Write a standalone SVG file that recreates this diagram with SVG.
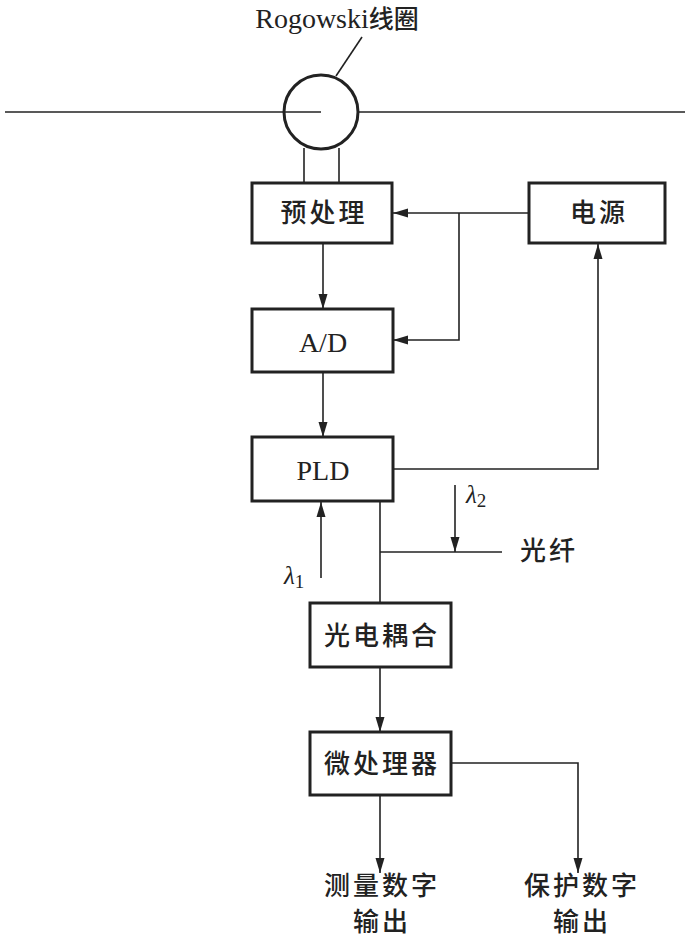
<svg xmlns="http://www.w3.org/2000/svg" width="687" height="944" viewBox="0 0 687 944">
<defs>
<marker id="ah" markerUnits="userSpaceOnUse" markerWidth="16" markerHeight="10" refX="15" refY="5" orient="auto">
<path d="M0,0.5 L15,5 L0,9.5 z" fill="#222"/>
</marker>
<style>
.box{fill:#fff;stroke:#222;stroke-width:3}
.ln{fill:none;stroke:#222;stroke-width:1.6}
.ar{fill:none;stroke:#222;stroke-width:1.6;marker-end:url(#ah)}
.t{font-family:"Liberation Serif","Noto Sans CJK SC",serif;font-size:28px;fill:#222;text-anchor:middle}
.c{font-family:"Noto Sans CJK SC",sans-serif;font-size:26px;font-weight:500;letter-spacing:3px;fill:#222;text-anchor:middle}
.g{font-family:"Liberation Serif",serif;font-style:italic;font-size:25px;fill:#222}
</style>
</defs>
<rect width="687" height="944" fill="#fff"/>
<g id="coil">
<text class="t" x="337" y="28">Rogowski<tspan font-family="Noto Sans CJK SC" font-size="25" font-weight="500">线圈</tspan></text>
<line class="ln" x1="362" y1="37" x2="336" y2="76"/>
<line class="ln" x1="5" y1="112" x2="321" y2="112"/>
<line class="ln" x1="359" y1="112" x2="685" y2="112"/>
<circle cx="321" cy="112" r="37" fill="none" stroke="#222" stroke-width="3"/>
<line class="ln" x1="304" y1="148" x2="304" y2="183"/>
<line class="ln" x1="339" y1="148" x2="339" y2="183"/>
</g>
<g id="connectors">
<line class="ar" x1="529" y1="213" x2="393" y2="213"/>
<polyline class="ar" points="459,213 459,340 393,340"/>
<line class="ar" x1="323" y1="243" x2="323" y2="309"/>
<line class="ar" x1="323" y1="372" x2="323" y2="437"/>
<polyline class="ar" points="393,469 598,469 598,244"/>
<line class="ar" x1="321" y1="578" x2="321" y2="502"/>
<line class="ln" x1="380" y1="501" x2="380" y2="603"/>
<line class="ln" x1="380" y1="552" x2="502" y2="552"/>
<line class="ar" x1="455" y1="485" x2="455" y2="552"/>
<line class="ar" x1="380" y1="667" x2="380" y2="732"/>
<line class="ar" x1="380" y1="795" x2="380" y2="873"/>
<polyline class="ar" points="451,763 578,763 578,873"/>
</g>
<g id="preprocess"><rect class="box" x="252" y="183" width="140" height="60"/><text class="c" x="324" y="222">预处理</text></g>
<g id="power"><rect class="box" x="529" y="183" width="136" height="60"/><text class="c" x="599" y="222">电源</text></g>
<g id="ad"><rect class="box" x="252" y="309" width="141" height="63"/><text class="t" x="323" y="352">A/D</text></g>
<g id="pld"><rect class="box" x="252" y="437" width="141" height="64"/><text class="t" x="323" y="480">PLD</text></g>
<g id="lambda1"><text class="g" x="284" y="584">λ<tspan font-style="normal" font-size="19" dy="4">1</tspan></text></g>
<g id="lambda2"><text class="g" x="466" y="503">λ<tspan font-style="normal" font-size="19" dy="4">2</tspan></text></g>
<g id="fiber"><text class="c" x="520" y="560" style="text-anchor:start">光纤</text></g>
<g id="coupler"><rect class="box" x="310" y="603" width="141" height="64"/><text class="c" x="382" y="645">光电耦合</text></g>
<g id="mcu"><rect class="box" x="310" y="732" width="141" height="63"/><text class="c" x="382" y="773">微处理器</text></g>
<g id="out1"><text class="c" x="382" y="895">测量数字</text><text class="c" x="382" y="931">输出</text></g>
<g id="out2"><text class="c" x="582" y="895">保护数字</text><text class="c" x="582" y="931">输出</text></g>
</svg>
